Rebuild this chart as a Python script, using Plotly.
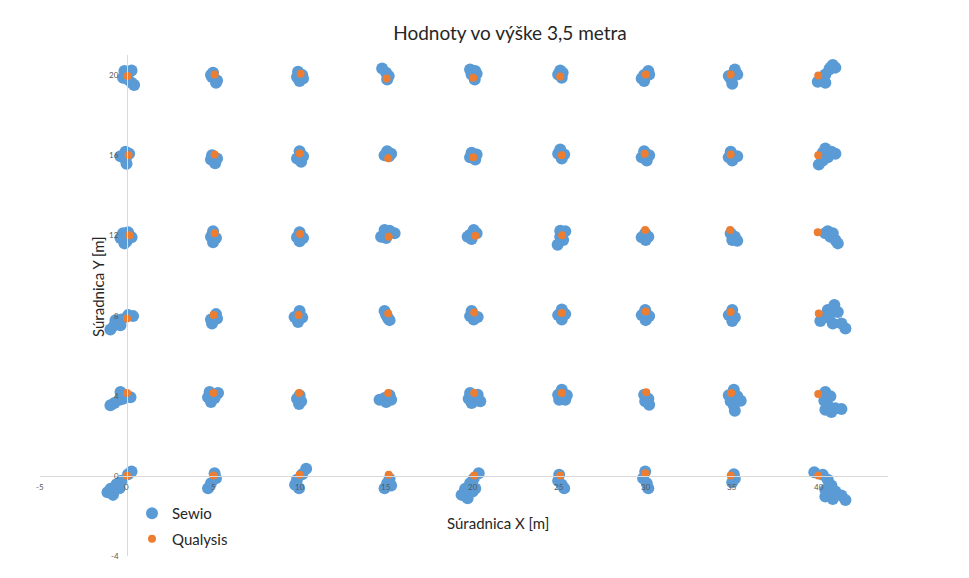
import plotly.graph_objects as go

# Qualysis reference positions (one per grid node), in metres
qualysis_x = [0.06, 5.09, 10.06, 15.03, 20.03, 25.06, 30.0, 34.91, 39.97,
              0.12, 5.09, 10.0, 15.12, 20.03, 25.15, 29.94, 34.91, 39.97,
              0.17, 5.09, 10.03, 15.15, 20.15, 25.17, 29.97, 34.88, 39.94,
              0.03, 5.03, 9.94, 15.12, 20.09, 25.15, 30.0, 34.91, 40.0,
              0.03, 5.03, 9.97, 15.12, 20.09, 25.15, 30.03, 34.94, 39.97,
              0.03, 5.03, 10.0, 15.15, 20.09, 25.06, 29.97, 34.91, 39.97]
qualysis_y = [19.95, 20.03, 20.07, 19.83, 19.87, 19.93, 20.03, 20.03, 19.98,
              16.0, 16.03, 16.08, 15.85, 15.9, 16.0, 16.07, 16.03, 16.0,
              12.0, 12.1, 12.07, 11.93, 11.98, 12.0, 12.27, 12.27, 12.15,
              7.85, 8.02, 8.02, 8.1, 8.15, 8.12, 8.2, 8.17, 8.1,
              4.13, 4.13, 4.13, 4.13, 4.13, 4.13, 4.17, 4.13, 4.08,
              0.0, 0.02, 0.05, 0.05, 0.02, 0.02, 0.13, 0.02, 0.02]

# Sewio measurements, grouped by row of the grid
sewio_row20_x = [-0.12, 0.29, -0.2, 0.09, 0.29, 0.44, 0.05,
                 5.0, 4.94, 5.23, 5.17, 4.88,
                 9.91, 10.15, 10.2, 10.0, 9.85,
                 14.77, 15.0, 15.15, 15.06,
                 19.85, 20.15, 19.94, 20.23, 20.12,
                 25.06, 25.2, 24.94, 25.15,
                 30.15, 29.91, 29.77, 29.91, 30.2,
                 35.15, 35.29, 34.91, 35.0, 34.8,
                 40.81, 40.96, 40.61, 40.38, 40.23, 39.94, 40.38, 40.67]
sewio_row20_y = [20.2, 20.23, 19.87, 19.78, 19.62, 19.5, 20.0,
                 20.12, 19.9, 19.73, 19.62, 20.0,
                 20.17, 20.0, 19.83, 19.7, 19.9,
                 20.33, 20.12, 19.95, 19.78,
                 20.28, 20.2, 20.03, 20.07, 19.78,
                 20.23, 20.12, 20.03, 19.87,
                 20.2, 20.0, 19.83, 19.7, 20.03,
                 20.28, 20.03, 19.83, 19.57, 19.95,
                 20.5, 20.37, 20.28, 20.03, 19.83, 19.67, 19.62, 20.37]

sewio_row16_x = [-0.06, -0.35, -0.06, 0.0, 0.15,
                 4.94, 5.23, 5.12, 4.88,
                 10.0, 10.2, 9.85, 10.09,
                 15.06, 15.29, 14.91, 15.17,
                 19.94, 20.23, 19.85, 20.15,
                 25.06, 24.94, 25.29, 25.15,
                 29.91, 30.2, 29.77, 30.06,
                 34.91, 35.29, 35.0, 34.8,
                 40.38, 40.73, 40.96, 40.52, 40.23, 40.0, 40.23]
sewio_row16_y = [16.17, 15.95, 15.78, 15.57, 16.07,
                 16.0, 15.83, 15.6, 15.78,
                 16.2, 15.95, 15.83, 15.67,
                 16.2, 16.07, 16.0, 15.95,
                 16.12, 16.03, 15.9, 15.78,
                 16.28, 16.07, 16.03, 15.83,
                 16.2, 16.0, 15.9, 15.73,
                 16.17, 15.95, 15.73, 15.9,
                 16.33, 16.17, 16.07, 15.9, 15.73, 15.53, 16.12]

sewio_row12_x = [-0.2, 0.09, -0.35, 0.0, 0.29, -0.12,
                 5.0, 4.88, 5.17, 5.0,
                 10.0, 9.85, 10.2, 10.0,
                 14.91, 15.2, 15.49, 14.71, 15.0,
                 20.06, 19.85, 20.23, 19.94, 19.71,
                 25.06, 25.35, 25.06, 25.23, 24.91,
                 29.97, 29.77, 30.15, 30.0,
                 34.91, 35.15, 35.0, 35.29,
                 40.52, 40.81, 40.67, 40.96, 41.1, 40.38]
sewio_row12_y = [12.1, 12.15, 11.87, 11.7, 11.9, 11.6,
                 12.2, 11.93, 11.87, 11.65,
                 12.15, 11.9, 11.87, 11.7,
                 12.27, 12.23, 12.1, 11.93, 11.87,
                 12.27, 12.03, 12.1, 11.82, 11.93,
                 12.23, 12.2, 11.93, 11.77, 11.53,
                 12.1, 11.9, 11.93, 11.77,
                 12.1, 11.93, 11.77, 11.73,
                 12.2, 12.1, 11.93, 11.77, 11.6, 12.1]

sewio_row8_x = [0.38, 0.09, -0.29, -0.49, -0.7, -0.93, -0.35, -0.64,
                5.17, 4.88, 5.23, 4.94,
                10.0, 9.71, 10.15, 9.91,
                14.91, 15.0, 15.12, 15.2,
                19.94, 19.85, 20.29, 20.06,
                25.15, 24.94, 25.35, 25.15,
                29.97, 29.77, 30.2, 30.0,
                35.0, 34.8, 35.15, 35.0,
                40.9, 41.1, 40.67, 40.44, 40.09, 40.81, 41.31, 41.54, 40.52]
sewio_row8_y = [7.97, 8.02, 7.8, 7.68, 7.52, 7.3, 7.52, 7.77,
                8.07, 7.8, 7.85, 7.6,
                8.23, 7.93, 7.9, 7.68,
                8.23, 8.02, 7.85, 7.77,
                8.23, 7.97, 7.93, 7.8,
                8.3, 8.02, 8.07, 7.8,
                8.27, 8.02, 7.97, 7.77,
                8.27, 8.02, 7.9, 7.73,
                8.52, 8.18, 8.1, 7.93, 7.73, 7.6, 7.6, 7.35, 8.27]

sewio_row4_x = [-0.35, -0.06, 0.23, -0.41, -0.7, -0.93, -0.2,
                4.8, 5.29, 4.71, 5.09, 4.88,
                10.0, 9.85, 10.09, 9.97,
                15.2, 14.91, 14.62, 15.0, 15.29,
                19.85, 20.29, 19.77, 20.15, 20.44, 19.94,
                25.15, 24.94, 25.44, 25.0, 25.35,
                29.91, 30.15, 29.97, 30.2,
                35.09, 34.8, 35.29, 34.91, 35.49, 35.09, 35.15,
                40.38, 40.67, 40.32, 40.52, 40.38, 40.96, 41.31, 40.73]
sewio_row4_y = [4.18, 4.02, 3.92, 3.8, 3.63, 3.52, 3.85,
                4.18, 4.13, 3.92, 3.88, 3.68,
                4.02, 3.85, 3.72, 3.58,
                4.02, 3.88, 3.8, 3.68, 3.8,
                4.13, 4.05, 3.85, 3.75, 3.72, 3.63,
                4.3, 4.05, 4.02, 3.8, 3.8,
                4.05, 3.85, 3.72, 3.55,
                4.3, 4.02, 3.97, 3.72, 3.75, 3.52, 3.25,
                4.18, 3.97, 3.75, 3.52, 3.3, 3.37, 3.33, 3.18]

sewio_row0_x = [0.29, 0.09, -0.29, -0.58, -0.93, -0.78, -0.41, -1.1,
                5.09, 5.17, 4.88, 4.71,
                10.38, 10.15, 9.85, 9.74, 9.97,
                15.2, 15.06, 14.91, 15.29,
                20.35, 20.06, 19.85, 19.56, 20.0, 19.36, 19.71, 20.15,
                25.0, 24.94, 25.15, 25.29,
                29.97, 29.85, 30.06, 30.15,
                35.09, 35.15, 35.0,
                39.74, 40.23, 40.52, 40.73, 40.38, 40.96, 41.31, 41.54, 40.81, 40.38]
sewio_row0_y = [0.22, 0.08, -0.25, -0.42, -0.65, -0.95, -0.62, -0.82,
                0.13, -0.12, -0.37, -0.62,
                0.35, 0.08, -0.2, -0.45, -0.62,
                -0.15, -0.37, -0.62, -0.48,
                0.13, -0.15, -0.37, -0.65, -0.78, -0.95, -1.12, -0.63,
                0.05, -0.25, -0.45, -0.62,
                0.22, -0.12, -0.37, -0.62,
                0.08, -0.15, -0.32,
                0.18, 0.05, -0.2, -0.48, -0.7, -0.78, -0.98, -1.2, -1.15, -1.03]

x_ticks = [-5, 0, 5, 10, 15, 20, 25, 30, 35, 40]
y_ticks = [-4, 0, 4, 8, 12, 16, 20]
x_range = [-5, 44]
y_range = [-4, 21]

sewio_x = (sewio_row20_x + sewio_row16_x + sewio_row12_x
           + sewio_row8_x + sewio_row4_x + sewio_row0_x)
sewio_y = (sewio_row20_y + sewio_row16_y + sewio_row12_y
           + sewio_row8_y + sewio_row4_y + sewio_row0_y)

BLUE = "#5B9BD5"
ORANGE = "#ED7D31"
FONT = "Lato"
TEXT = "#262626"
TICK = "#595959"

fig = go.Figure()
fig.add_trace(go.Scatter(
    x=sewio_x, y=sewio_y, mode="markers", name="Sewio",
    legendgroup="s",
    marker=dict(color=BLUE, size=12, line=dict(width=0)),
))
fig.add_trace(go.Scatter(
    x=qualysis_x, y=qualysis_y, mode="markers", name="Qualysis",
    legendgroup="q",
    marker=dict(color=ORANGE, size=8, line=dict(width=0)),
))

# axes cross at the origin, as in a classic spreadsheet scatter chart
x_pos = (0 - y_range[0]) / (y_range[1] - y_range[0])
y_pos = (0 - x_range[0]) / (x_range[1] - x_range[0])

axis_common = dict(
    showgrid=False, zeroline=False, showline=True,
    linecolor="#d9d9d9", linewidth=1, ticks="",
    showticklabels=False, fixedrange=True,
)

# tick labels sit on top of the markers, next to the crossing axes
tick_annotations = []
for t in x_ticks:
    tick_annotations.append(dict(
        text=str(t), x=t, y=0, xref="x", yref="y",
        xanchor="center", yanchor="middle", yshift=-11,
        showarrow=False, font=dict(family=FONT, size=8, color=TICK)))
for t in y_ticks:
    tick_annotations.append(dict(
        text=str(t), x=0, y=t, xref="x", yref="y",
        xanchor="right", yanchor="middle", xshift=-6,
        showarrow=False, font=dict(family=FONT, size=8, color=TICK)))

fig.update_layout(
    width=969, height=578,
    margin=dict(l=40, r=81, t=55, b=22),
    paper_bgcolor="white", plot_bgcolor="white",
    font=dict(family=FONT),
    title=dict(
        text="Hodnoty vo výške 3,5 metra",
        x=510 / 969, xanchor="center",
        y=1 - 33 / 578, yanchor="middle",
        font=dict(family=FONT, size=19, color=TEXT),
    ),
    xaxis=dict(range=x_range, anchor="free", position=x_pos, **axis_common),
    yaxis=dict(range=y_range, anchor="free", position=y_pos, **axis_common),
    showlegend=True,
    legend=dict(
        x=(132 - 40) / 848, y=(556 - 497) / 501,
        xanchor="left", yanchor="top",
        bgcolor="rgba(0,0,0,0)",
        font=dict(family=FONT, size=15, color=TEXT),
        traceorder="grouped", tracegroupgap=3,
        itemwidth=30,
    ),
    annotations=tick_annotations + [
        dict(text="Súradnica X [m]", xref="paper", yref="paper",
             x=(498 - 40) / 848, y=(556 - 523) / 501,
             xanchor="center", yanchor="middle", showarrow=False,
             font=dict(family=FONT, size=15, color=TEXT)),
        dict(text="Súradnica Y [m]", xref="paper", yref="paper",
             x=(98 - 40) / 848, y=(556 - 287) / 501,
             xanchor="center", yanchor="middle", showarrow=False,
             textangle=-90,
             font=dict(family=FONT, size=15, color=TEXT)),
    ],
)

fig.write_html("out.html")
